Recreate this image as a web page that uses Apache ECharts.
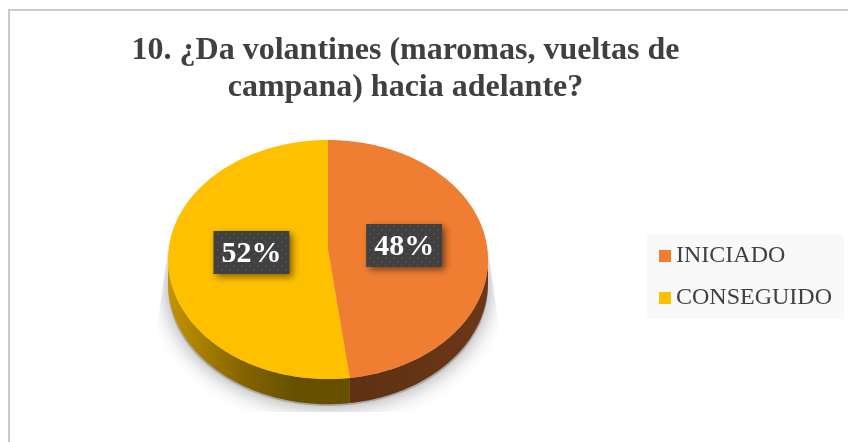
<!DOCTYPE html>
<html><head><meta charset="utf-8">
<style>html,body{margin:0;padding:0;background:#fff}#c{width:848px;height:442px}</style>
<script src="https://cdn.jsdelivr.net/npm/echarts@6/dist/echarts.min.js"></script>
</head><body><div id="c"></div>
<script>
const titleLines = ['10. ¿Da volantines (maromas, vueltas de', 'campana) hacia adelante?'];
const categories = ['INICIADO', 'CONSEGUIDO'];
const values = [48, 52];
const topColors = ['#F07E32', '#FFC000'];

const SERIF = '"Liberation Serif","Times New Roman",serif';
const total = values.reduce((a, b) => a + b, 0);
const starts = values.map((_, i) => values.slice(0, i).reduce((a, b) => a + b, 0));
const wallFills = [
  {type:'linear',x:0,y:0,x2:1,y2:0,colorStops:[{offset:0,color:'#5f3014'},{offset:1,color:'#6b3817'}]},
  {type:'linear',x:0,y:0,x2:1,y2:0,colorStops:[{offset:0,color:'#c49400'},{offset:0.4,color:'#856500'},{offset:0.7,color:'#665000'},{offset:1,color:'#665000'}]}
];
// projected disc
const P = {cx:328, cy:249, R:159.4, S:118.6, k:0.088, depth:23};
function proj(theta, f) {
  const u = Math.sin(theta) * f, v = -Math.cos(theta) * f, d = 1 / (1 - P.k * v);
  return [P.cx + P.R * u * d, P.cy + P.S * v * d, d];
}
function sliceAngles(i) {
  return [starts[i] / total * Math.PI * 2, (starts[i] + values[i]) / total * Math.PI * 2];
}
function arc(a0, a1) {
  const n = 160, pts = [];
  for (let j = 0; j <= n; j++) pts.push(a0 + (a1 - a0) * j / n);
  return pts;
}
const dotCanvas = document.createElement('canvas');
dotCanvas.width = dotCanvas.height = 8;
(function () {
  const g = dotCanvas.getContext('2d');
  g.fillStyle = '#404040'; g.fillRect(0, 0, 8, 8);
  g.fillStyle = '#4c4c4c'; g.fillRect(1, 1, 2, 2); g.fillRect(5, 5, 2, 2);
})();

function renderSlice(i) {
  return function (params, api) {
    const [a0, a1] = sliceAngles(i);
    const top = arc(a0, a1).map(t => proj(t, 1));
    const apex = proj(0, 0);
    const visible = arc(a0, a1).filter(t => -Math.cos(t) >= P.k - 0.001);
    const wallTop = visible.map(t => proj(t, 1));
    const wallBot = wallTop.map(p => [p[0], p[1] + P.depth * p[2]]).reverse();
    const mid = (a0 + a1) / 2;
    const lp = proj(mid, 0.48);
    const w = 76, h = 43;
    return {
      type:'group',
      children:[
        {type:'polygon', shape:{points:wallTop.map(p=>[p[0],p[1]]).concat(wallBot)}, style:{fill:wallFills[i]}, z2:1},
        {type:'polygon', shape:{points:[[apex[0],apex[1]]].concat(top.map(p=>[p[0],p[1]]))}, style:{fill:topColors[i]}, z2:2},
        {type:'rect', shape:{x:lp[0]-w/2, y:lp[1]-h/2, width:w, height:h},
          style:{fill:{image:dotCanvas, repeat:'repeat'}, shadowBlur:7, shadowOffsetX:3, shadowOffsetY:3, shadowColor:'rgba(0,0,0,0.5)'}, z2:10},
        {type:'text', x:lp[0], y:lp[1]+2, style:{text:Math.round(values[i]/total*100)+'%', fill:'#fff', font:'bold 30px '+SERIF, align:'center', verticalAlign:'middle'}, z2:11}
      ]
    };
  };
}
function renderShadow(params, api) {
  const pts = arc(0, Math.PI * 2).map(t => {
    const p = proj(t, 1);
    return [p[0], p[1] + 27];
  });
  return {type:'group', children:[
    {type:'polygon', shape:{points:pts}, style:{fill:'#a8a8a8', shadowBlur:22, shadowColor:'#a0a0a0'},
     clipPath:{type:'polygon', shape:{points:[[168,250],[488,250],[498,320],[498,412],[158,412],[158,320]]}}}
  ]};
}

const series = [{type:'custom', name:'shadow', coordinateSystem:'none', silent:true, z:1, data:[[total]], renderItem:renderShadow}]
  .concat(categories.map((c, i) => ({
    type:'custom', name:c, coordinateSystem:'none', z:2+i, silent:true,
    itemStyle:{color:topColors[i]}, data:[[values[i]]], renderItem:renderSlice(i)
  })));

const chart = echarts.init(document.getElementById('c'), null, {renderer:'canvas'});
chart.setOption({
  animation:false,
  backgroundColor:'#ffffff',
  title:{text:titleLines.join('\n'), left:400.5, top:27, textAlign:'center',
    textStyle:{fontFamily:SERIF, fontWeight:'bold', fontSize:32, lineHeight:37, color:'#404040'}},
  legend:{orient:'vertical', left:647, top:234, padding:[10,12,9,12], backgroundColor:'#f9f9f9',
    itemWidth:12, itemHeight:12, itemGap:18, icon:'rect', data:categories.map((c,i)=>({name:c,itemStyle:{color:topColors[i],borderWidth:0}})),
    textStyle:{fontFamily:SERIF, fontSize:24, color:'#404040'}},
  graphic:[
    {type:'polyline', silent:true, shape:{points:[[9,442],[9,10],[848,10]]}, style:{stroke:'#c9c9c9', lineWidth:2, fill:null}}
  ],
  series
});
</script></body></html>
